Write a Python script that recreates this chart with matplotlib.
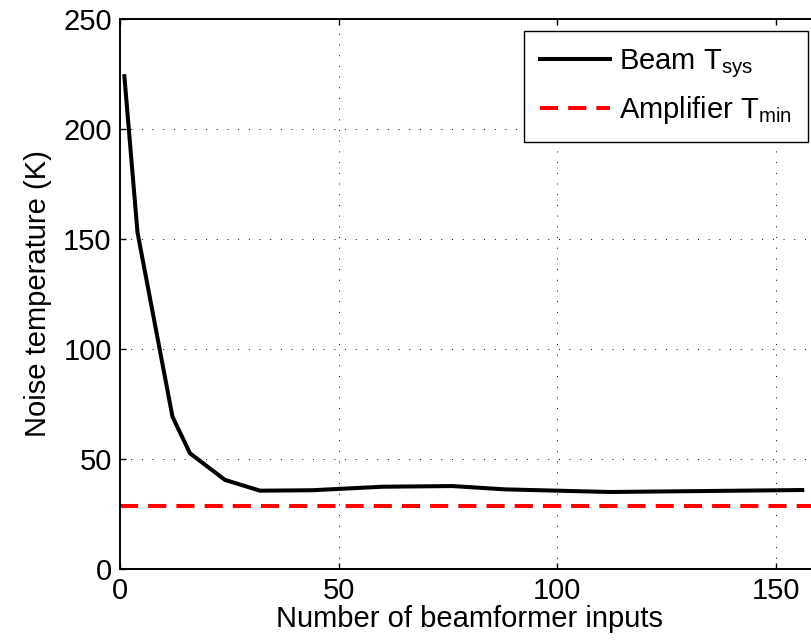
import matplotlib
matplotlib.use("Agg")
import matplotlib.pyplot as plt

# Data
n_inputs = [1, 4, 12, 16, 24, 32, 44, 60, 76, 88, 112, 156]
beam_tsys = [224, 153, 69.2, 52.6, 40.5, 35.6, 35.8, 37.4, 37.7, 36.2, 35.0, 35.9]
tmin_x = [0, 160]
amp_tmin = [28.8, 28.8]

xticks = [0, 50, 100, 150]
yticks = [0, 50, 100, 150, 200, 250]

plt.rcParams['font.family'] = ['Liberation Sans', 'DejaVu Sans']
plt.rcParams['mathtext.fontset'] = 'custom'
plt.rcParams['mathtext.rm'] = 'Liberation Sans'
plt.rcParams['mathtext.it'] = 'Liberation Sans'

FS = 21

W, H = 812, 643
fig = plt.figure(figsize=(W / 100, H / 100), dpi=100)
left, bottom, top = 120, 569, 19
xmax = 160
px_per_unit = (776 - 120) / 150.0
width_px = xmax * px_per_unit
ax = fig.add_axes([left / W, (H - bottom) / H, width_px / W, (bottom - top) / H])

ax.plot(n_inputs, beam_tsys, color='black', lw=2.9, label=r'Beam T$_{\mathrm{sys}}$',
        solid_joinstyle='miter')
ax.plot(tmin_x, amp_tmin, color='red', lw=2.9, dashes=(4.5, 2.5),
        label=r'Amplifier T$_{\mathrm{min}}$')

ax.set_xlim(0, xmax)
ax.set_ylim(0, 250)
ax.set_xticks(xticks)
ax.set_yticks(yticks)
ax.grid(True, color='black', linestyle=(0, (1, 10)), linewidth=0.7)
ax.tick_params(direction='in', length=4.5, width=1.0, top=True, right=True,
               labelsize=FS, pad=6)
for s in ax.spines.values():
    s.set_linewidth(1.4)

ax.set_xlabel('Number of beamformer inputs', fontsize=FS, labelpad=0)
ax.set_ylabel('Noise temperature (K)', fontsize=FS, labelpad=8)

leg = ax.legend(loc='upper right', bbox_to_anchor=(808 / W, 1 - 31 / H),
                bbox_transform=fig.transFigure, borderaxespad=0, fontsize=FS,
                fancybox=False, framealpha=1, edgecolor='black',
                handlelength=2.4, handletextpad=0.3, borderpad=0.55,
                labelspacing=0.5)
leg.get_frame().set_linewidth(1.0)

fig.savefig('out.png', dpi=100)
